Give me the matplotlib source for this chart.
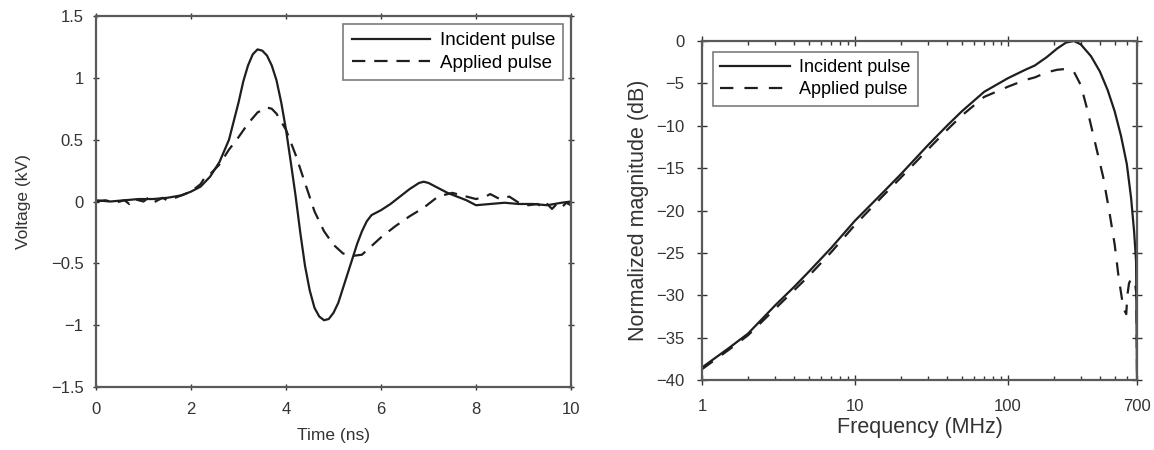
import matplotlib.pyplot as plt
from matplotlib.ticker import FixedLocator, NullFormatter, FuncFormatter

plt.rcParams['font.family'] = ['Liberation Sans', 'DejaVu Sans']

# time-domain pulses (ns, kV)
t_inc = [0.0, 0.3, 0.6, 0.9, 1.2, 1.5, 1.8, 2.0, 2.2, 2.4, 2.6, 2.8, 3.0, 3.1,
         3.2, 3.3, 3.4, 3.5, 3.6, 3.7, 3.8, 3.9, 4.0, 4.1, 4.2, 4.3, 4.4, 4.5,
         4.6, 4.7, 4.8, 4.9, 5.0, 5.1, 5.2, 5.3, 5.4, 5.5, 5.6, 5.7, 5.8, 6.0,
         6.2, 6.4, 6.6, 6.8, 6.9, 7.0, 7.2, 7.4, 7.6, 7.8, 8.0, 8.3, 8.6, 8.9,
         9.2, 9.5, 9.8, 10.0]
v_inc = [0.01, 0.0, 0.01, 0.02, 0.02, 0.03, 0.05, 0.08, 0.12, 0.2, 0.32, 0.5,
         0.8, 0.97, 1.1, 1.19, 1.23, 1.22, 1.18, 1.1, 0.98, 0.8, 0.58, 0.32,
         0.05, -0.25, -0.52, -0.72, -0.86, -0.93, -0.96, -0.95, -0.9, -0.82,
         -0.7, -0.58, -0.46, -0.34, -0.24, -0.16, -0.11, -0.07, -0.02, 0.04,
         0.1, 0.15, 0.16, 0.15, 0.11, 0.07, 0.04, 0.01, -0.03, -0.02, -0.01,
         -0.02, -0.02, -0.03, -0.01, 0.0]

t_app = [0.0, 0.2, 0.4, 0.6, 0.7, 0.8, 1.0, 1.1, 1.2, 1.4, 1.5, 1.6, 1.8,
         2.0, 2.2, 2.3, 2.4, 2.6, 2.8, 3.0, 3.2, 3.4, 3.6, 3.7, 3.8, 4.0,
         4.2, 4.4, 4.6, 4.8, 5.0, 5.2, 5.4, 5.6, 5.8, 6.0, 6.3, 6.6, 6.9,
         7.2, 7.5, 7.8, 8.0, 8.2, 8.3, 8.5, 8.7, 8.9, 9.1, 9.3, 9.4, 9.5,
         9.6, 9.7, 9.8, 9.9, 10.0]
v_app = [0.0, 0.01, -0.01, 0.01, -0.02, 0.02, 0.0, 0.03, -0.01, 0.03, 0.01,
         0.02, 0.05, 0.08, 0.14, 0.2, 0.22, 0.3, 0.42, 0.52, 0.63, 0.72, 0.76,
         0.75, 0.71, 0.58, 0.38, 0.15, -0.08, -0.24, -0.35, -0.42, -0.44,
         -0.43, -0.36, -0.29, -0.2, -0.12, -0.05, 0.04, 0.07, 0.04, 0.02,
         0.04, 0.06, 0.02, 0.04, -0.01, -0.03, -0.02, -0.05, -0.02, -0.06,
         -0.02, -0.05, -0.01, -0.03]

# normalized spectra (MHz, dB)
f_inc = [1, 1.5, 2, 3, 4, 5, 7, 10, 15, 20, 30, 40, 50, 70, 100, 130, 150,
         180, 210, 240, 270, 300, 350, 400, 450, 500, 550, 600, 640, 670,
         690, 700]
m_inc = [-38.5, -36.2, -34.5, -31.2, -29.0, -27.2, -24.4, -21.2, -18.0,
         -15.7, -12.3, -10.0, -8.3, -6.0, -4.4, -3.4, -2.9, -1.9, -0.9,
         -0.2, 0.0, -0.4, -1.8, -3.6, -5.8, -8.3, -11.2, -14.5, -18.5, -22.5,
         -26.0, -40.0]

f_app = [1, 1.5, 2, 3, 4, 5, 7, 10, 15, 20, 30, 40, 50, 70, 100, 130, 150,
         180, 210, 240, 270, 300, 330, 370, 420, 460, 500, 530, 560, 580,
         595, 605, 620, 640, 660, 680, 695, 700]
m_app = [-38.7, -36.4, -34.7, -31.6, -29.4, -27.7, -24.9, -21.7, -18.4,
         -16.1, -12.8, -10.5, -8.8, -6.6, -5.4, -4.6, -4.3, -3.7, -3.4,
         -3.3, -3.6, -5.2, -8.0, -11.8, -16.0, -20.0, -24.0, -27.8, -30.6,
         -31.8, -32.2, -30.0, -28.6, -28.0, -28.2, -28.6, -30.0, -40.0]

line_col = '#1e1e1e'
spine_col = '#5a5a5a'
text_col = '#333333'


def minus_fmt(v, pos):
    return f'{v:g}'.replace('-', '\u2212')


fig = plt.figure(figsize=(11.54, 4.5), dpi=100)

# ---- time domain ----
ax1 = fig.add_axes([0.0832, 0.14, 0.4116, 0.8244])
ax1.plot(t_inc, v_inc, color=line_col, lw=1.6, label='Incident pulse')
ax1.plot(t_app, v_app, color=line_col, lw=1.6, ls=(0, (6, 4)),
         label='Applied pulse')
ax1.set_xlim(0, 10)
ax1.set_ylim(-1.5, 1.5)
ax1.set_xticks([0, 2, 4, 6, 8, 10])
ax1.set_yticks([-1.5, -1, -0.5, 0, 0.5, 1, 1.5])
ax1.yaxis.set_major_formatter(FuncFormatter(minus_fmt))
ax1.tick_params(axis='x', pad=9)
ax1.tick_params(direction='inout', length=4, width=1, colors=text_col,
                labelsize=12, top=True, right=True)
ax1.tick_params(axis='y', pad=7)
ax1.set_xlabel('Time (ns)', fontsize=12.5, color=text_col, labelpad=8)
ax1.set_ylabel('Voltage (kV)', fontsize=12.5, color=text_col, labelpad=14)
for s in ax1.spines.values():
    s.set_color(spine_col)
    s.set_linewidth(1.6)
leg1 = ax1.legend(loc='upper right', fontsize=13.5, frameon=True,
                  fancybox=False, edgecolor=spine_col, handlelength=4.2,
                  borderaxespad=0.4, borderpad=0.45, labelspacing=0.3,
                  handletextpad=0.5)
leg1.get_frame().set_linewidth(1.2)

# ---- frequency domain ----
ax2 = fig.add_axes([0.6083, 0.155, 0.377, 0.754])
ax2.plot(f_inc, m_inc, color=line_col, lw=1.6, label='Incident pulse')
ax2.plot(f_app, m_app, color=line_col, lw=1.6, ls=(0, (6, 5)),
         label='Applied pulse')
ax2.set_xscale('log')
ax2.set_xlim(1, 700)
ax2.set_ylim(-40, 0)
ax2.xaxis.set_major_locator(FixedLocator([1, 10, 100, 700]))
ax2.xaxis.set_major_formatter(FuncFormatter(minus_fmt))
minors = [m * d for d in (1, 10, 100) for m in range(2, 10) if m * d < 700]
ax2.xaxis.set_minor_locator(FixedLocator(minors))
ax2.xaxis.set_minor_formatter(NullFormatter())
ax2.set_yticks(range(-40, 1, 5))
ax2.yaxis.set_major_formatter(FuncFormatter(minus_fmt))
ax2.tick_params(which='major', direction='inout', length=7, width=1,
                colors=text_col, labelsize=12, top=True, right=True)
ax2.tick_params(axis='x', which='major', pad=10)
ax2.tick_params(axis='y', which='major', pad=9)
ax2.tick_params(which='minor', direction='in', length=3, width=1,
                colors=text_col, top=True)
ax2.set_xlabel('Frequency (MHz)', fontsize=15.5, color=text_col, labelpad=2)
ax2.set_ylabel('Normalized magnitude (dB)', fontsize=15.5, color=text_col,
               labelpad=5)
for s in ax2.spines.values():
    s.set_color(spine_col)
    s.set_linewidth(1.6)
leg2 = ax2.legend(loc='upper left', fontsize=13, frameon=True,
                  fancybox=False, edgecolor=spine_col, handlelength=3.9,
                  borderaxespad=0.6, borderpad=0.4, labelspacing=0.3,
                  handletextpad=0.5)
leg2.get_frame().set_linewidth(1.2)

fig.savefig('out.png', dpi=100)
